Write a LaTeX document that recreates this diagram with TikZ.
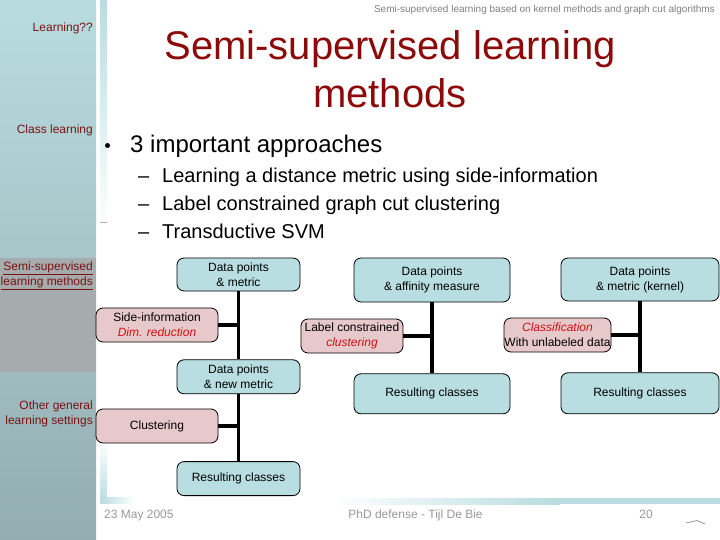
\documentclass[tikz,border=0pt]{standalone}
\usepackage{fontspec}
\setmainfont{Liberation Sans}
\usetikzlibrary{positioning, calc}
\definecolor{titlered}{HTML}{8C0A0A}
\definecolor{sidered}{HTML}{7A1212}
\definecolor{notered}{HTML}{D01010}
\definecolor{boxblue}{HTML}{B9DEE2}
\definecolor{boxpink}{HTML}{E8C9CB}
\definecolor{barlight}{HTML}{B8DCE0}
\definecolor{bardark}{HTML}{93ADB1}
\definecolor{bargray}{HTML}{A6ABAE}
\definecolor{footgray}{HTML}{999999}

\begin{document}
\begin{tikzpicture}[x=1pt, y=-1pt, font=\fontsize{12}{15}\selectfont,
  box/.style={draw, line width=0.8pt, rounded corners=7pt, fill=boxblue, align=center,
              inner sep=1pt, minimum width=123pt, minimum height=34pt},
  sidebox/.style={box, fill=boxpink, minimum width=122pt},
  link/.style={line width=3.6pt, draw=black},
  sidelbl/.style={anchor=east, align=right, text=sidered, inner sep=0pt,
                  font=\fontsize{12}{15}\selectfont},
  foot/.style={anchor=base, text=footgray, inner sep=0pt},
  subpt/.style={anchor=base west, inner sep=0pt, font=\fontsize{20}{24}\selectfont}]
  \useasboundingbox (0,0) rectangle (720,540);
  \shade[top color=barlight, bottom color=bardark] (0,0) rectangle (96,540);
  \fill[bargray] (0,258) rectangle (96,372);
  \shade[top color=barlight, bottom color=white] (100,0) rectangle (107,230);
  \draw[gray!60, line width=0.8pt] (100,222) -- (107,222);
  \shade[top color=white, bottom color=barlight] (100,440) rectangle (107,503);
  \shade[left color=barlight, right color=white] (100,497) rectangle (135,503);
  \shade[left color=white, right color=barlight] (330,498) rectangle (560,504);
  \fill[barlight] (560,498) rectangle (720,504);

  \node[anchor=base east, text=gray, inner sep=0pt, font=\fontsize{10}{12}\selectfont] (head) at (715,12.5)
        {Semi-supervised learning based on kernel methods and graph cut algorithms};
  \node[anchor=north, align=center, text=titlered, inner sep=0pt, font=\fontsize{40}{48}\selectfont] (title) at (390,30)
        {Semi-supervised learning\\methods};

  \node[sidelbl] (s1) at (93,28) {Learning??};
  \node[sidelbl] (s2) at (93,130) {Class learning};
  \node[sidelbl] (s3) at (93,275.5) {\underline{Semi-supervised}\\\underline{learning methods}};
  \node[sidelbl] (s4) at (93,413.5) {Other general\\learning settings};

  \node[circle, fill=black, inner sep=0pt, minimum size=5pt] (bul) at (107.5,145.5) {};
  \node[subpt, font=\fontsize{24}{28}\selectfont] (main) at (130,153) {3 important approaches};
  \foreach \txt [count=\i] in {Learning a distance metric using side-information,
      Label constrained graph cut clustering, Transductive SVM} {
    \node[subpt] (dash\i) at (138,155+28*\i) {–};
    \node[subpt] (item\i) at (162,155+28*\i) {\txt};
  }

  \node[box, minimum height=33pt] (dm) at (238.5,274.5) {Data points\\\& metric};
  \node[box, below=68pt of dm] (dnm) {Data points\\\& new metric};
  \node[box, below=67pt of dnm] (res1) {Resulting classes};
  \node[sidebox] (side) at (157,325) {Side-information\\\textcolor{notered}{\itshape Dim. reduction}};
  \node[sidebox] (clus) at (157,426) {Clustering};

  \node[box, minimum width=156pt, minimum height=44pt] (dam) at (432,280) {Data points\\\& affinity measure};
  \node[box, minimum width=156pt, minimum height=40pt, below=71pt of dam] (res2) {Resulting classes};
  \node[sidebox, minimum width=102pt] (lcc) at (352,336) {Label constrained\\\textcolor{notered}{\itshape clustering}};

  \node[box, minimum width=158pt, minimum height=43pt] (dmk) at (640,279.5) {Data points\\\& metric (kernel)};
  \node[box, minimum width=158pt, minimum height=41pt, below=71pt of dmk] (res3) {Resulting classes};
  \node[sidebox, minimum width=107pt, inner xsep=0pt] (cwu) at (557.5,335) {\textcolor{notered}{\itshape Classification}\\With unlabeled data};

  \coordinate (j1) at (side.east -| dm.south);
  \coordinate (j2) at (clus.east -| dnm.south);
  \coordinate (j3) at (lcc.east -| dam.south);
  \coordinate (j4) at (cwu.east -| dmk.south);
  \draw[link] (dm) -- (dnm);
  \draw[link] (dnm) -- (res1);
  \draw[link] (side.east) -- (j1);
  \draw[link] (clus.east) -- (j2);
  \draw[link] (dam) -- (res2);
  \draw[link] (lcc.east) -- (j3);
  \draw[link] (dmk) -- (res3);
  \draw[link] (cwu.east) -- (j4);

  \node[foot, anchor=base west] (date) at (104,518) {23 May 2005};
  \node[foot] (who) at (415.5,518) {PhD defense - Tijl De Bie};
  \node[foot] (page) at (646,518) {20};
  \draw[gray, line width=0.6pt] (686,523) -- (697,520.5) -- (705,524);
\end{tikzpicture}
\end{document}
